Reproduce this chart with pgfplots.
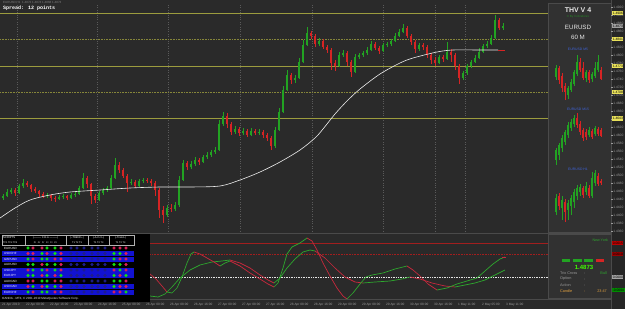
\documentclass[border=0pt]{standalone}
\usepackage{fontspec}
\setmainfont{Liberation Sans}
\newfontfamily\monof{Liberation Mono}
\usepackage{pgfplots}
\usepackage{pgfplotstable}
\pgfplotsset{compat=1.18}
\newcommand\tf[1]{\fontsize{#1}{#1}\selectfont}
\definecolor{bg}{HTML}{2A2A2A}
\definecolor{bgstrip}{HTML}{262626}
\definecolor{panel}{HTML}{313131}
\definecolor{pborder}{HTML}{4A4A4A}
\definecolor{cg}{HTML}{22A322}
\definecolor{cr}{HTML}{D62424}
\definecolor{yl}{HTML}{9C9C3E}
\definecolor{yld}{HTML}{86863A}
\definecolor{gridc}{HTML}{5A5A5A}
\definecolor{tg}{HTML}{12E012}
\definecolor{tr}{HTML}{E0205A}
\definecolor{td}{HTML}{1E1E8C}
\definecolor{rowb}{HTML}{1212D2}
\definecolor{tgray}{HTML}{9A9A9A}
\definecolor{ograng}{HTML}{E0A040}
\definecolor{blab}{HTML}{3E62D8}
\definecolor{lgreen}{HTML}{2EA82E}
\definecolor{lred}{HTML}{C8283C}
\definecolor{dred}{HTML}{A21E1E}
\definecolor{boxy}{HTML}{E8E05A}

\pgfplotsset{
  wick/.style={#1, line width=0.6pt, mark=none, forget plot, -, quiver={u=0, v=\thisrow{wb}-\thisrow{wt}}},
  body/.style={#1, line width=2.2pt, mark=none, forget plot, -, quiver={u=0, v=\thisrow{bb}-\thisrow{bt}}},
  mbody/.style={#1, line width=1.8pt, mark=none, forget plot, -, quiver={u=0, v=\thisrow{bb}-\thisrow{bt}}},
  mini/.style={anchor=south west, scale only axis, width=58pt, xmin=550, xmax=608, y dir=reverse, hide axis, clip=false},
}

% main chart candles (x, body top, body bottom, wick top, wick bottom), in screen rows
\pgfplotstableread{
x bt bb wt wb
3 196 198 194 200
7 192 196 189 197
11 190 192 188 194
19 186 193 184 194
23 183 186 179 188
47 195 196 193 198
59 197 199 195 200
63 196 197 194 199
71 195 198 193 199
75 194 195 192 197
79 188 194 186 195
83 178 188 173 189
99 193 200 191 201
103 190 193 188 195
107 188 190 186 192
111 178 188 175 189
115 165 178 158 179
131 182 183 179 185
139 181 186 179 187
143 180 181 178 183
167 208 215 205 217
175 205 209 202 211
179 180 205 176 207
183 163 180 160 181
191 164 167 161 169
195 160 164 157 166
203 157 162 155 163
207 155 157 152 159
211 152 155 150 157
215 150 152 147 154
219 124 150 120 151
223 116 124 112 126
235 129 132 126 134
243 131 133 128 135
251 131 135 128 136
259 132 133 129 135
275 130 146 127 148
279 112 130 108 131
283 90 112 86 113
287 75 90 70 91
295 78 80 75 83
299 62 78 58 79
303 45 62 40 63
307 33 45 27 46
319 41 44 38 46
339 55 66 52 67
343 53 55 50 57
355 57 72 54 73
359 55 57 53 59
363 53 55 51 57
367 50 53 47 55
371 44 50 41 51
383 45 51 43 52
387 44 45 42 47
391 41 44 39 46
395 36 41 33 42
399 32 36 29 37
403 28 32 24 33
419 45 49 43 51
439 57 63 55 64
447 52 59 42 60
463 73 78 71 80
467 66 73 64 75
471 62 66 60 68
475 58 62 55 63
479 52 58 48 59
483 46 52 44 53
487 44 46 41 48
491 38 44 35 45
495 20 38 15 39
503 26 28 23 30
}\gtab

\pgfplotstableread{
x bt bb wt wb
15 190 193 188 196
27 183 185 181 187
31 185 189 184 192
35 189 191 187 193
39 191 194 190 197
43 194 196 192 198
51 195 198 194 201
55 198 199 196 202
67 196 198 195 200
87 178 184 176 188
91 184 196 183 204
95 196 200 194 203
119 165 170 162 173
123 170 176 168 178
127 176 183 174 192
135 182 186 180 188
147 180 181 178 183
151 181 183 179 186
155 183 190 181 196
159 190 210 188 218
163 210 215 206 223
171 208 209 204 212
187 163 167 161 170
199 160 162 158 165
227 116 124 113 128
231 124 132 122 135
239 129 133 127 136
247 131 135 129 137
255 131 133 129 135
263 132 135 130 138
267 135 138 133 141
271 138 146 136 150
291 75 80 73 84
311 33 36 31 39
315 36 44 34 47
323 41 47 39 49
327 47 50 45 53
331 50 63 48 70
335 63 66 60 71
347 53 62 51 66
351 62 72 60 77
375 44 48 42 50
379 48 51 46 54
407 28 36 26 38
411 36 42 34 45
415 42 49 40 53
423 45 47 43 50
427 47 55 45 58
431 55 60 53 64
435 60 63 57 66
443 57 59 55 62
451 52 55 49 62
455 55 66 53 70
459 66 78 64 84
499 20 28 18 30
}\rtab

\pgfplotstableread{
x bt bb wt wb
556 68 77 65 80
568 88 95 86 99
571 82 90 79 92
574 72 84 70 86
577 62 74 55 76
586 72 78 70 82
592 74 79 72 82
595 68 76 62 78
598 62 70 55 72
}\mfiveg
\pgfplotstableread{
x bt bb wt wb
559 68 80 66 84
562 76 88 73 92
565 86 92 83 100
580 62 70 58 72
583 68 78 62 80
589 72 80 70 83
601 70 79 67 80
}\mfiver
\pgfplotstableread{
x bt bb wt wb
556 150 160 148 165
559 145 155 143 160
562 138 148 135 152
565 132 142 130 145
568 125 135 122 138
571 122 128 119 131
574 118 124 115 127
589 130 135 127 137
595 128 134 126 136
}\mfifg
\pgfplotstableread{
x bt bb wt wb
577 118 125 113 128
580 124 132 121 135
583 130 138 128 141
586 132 137 129 140
592 131 137 129 139
598 129 134 127 136
601 130 136 128 137
}\mfifr
\pgfplotstableread{
x bt bb wt wb
556 198 212 194 215
562 200 208 196 220
568 203 210 200 220
571 198 206 195 215
574 192 202 189 208
577 188 196 185 200
580 187 192 184 196
586 186 192 182 195
592 178 196 172 198
595 173 183 170 186
}\mhg
\pgfplotstableread{
x bt bb wt wb
559 196 206 193 210
565 202 212 199 222
583 188 195 186 198
589 188 196 185 198
598 176 184 173 186
601 181 183 179 185
}\mhr

\begin{document}
\begin{tikzpicture}
% backgrounds
\fill[bg] (0pt,0pt) rectangle (625pt,309pt);

% ---------------- main price chart ----------------
\begin{axis}[at={(0pt,77pt)}, anchor=south west, scale only axis,
  width=548pt, height=227pt, xmin=0, xmax=548, ymin=5, ymax=232, y dir=reverse,
  axis line style={draw=none}, xtick={17,97,168,240,312,383,435,465}, xticklabels={},
  ytick=\empty, major tick length=0pt, xmajorgrids,
  major grid style={gridc, dotted, line width=0.5pt}]
\addplot[yl, line width=0.8pt, forget plot] coordinates {(0,13) (548,13)};
\addplot[yld, densely dotted, line width=0.6pt, forget plot] coordinates {(0,39) (548,39)};
\addplot[yl, line width=0.8pt, forget plot] coordinates {(0,66) (548,66)};
\addplot[yld, densely dotted, line width=0.6pt, forget plot] coordinates {(0,92) (548,92)};
\addplot[yl, line width=0.8pt, forget plot] coordinates {(0,118.5) (548,118.5)};
\addplot[wick=cg] table[x=x, y=wt] {\gtab};
\addplot[wick=cr] table[x=x, y=wt] {\rtab};
\addplot[body=cg] table[x=x, y=bt] {\gtab};
\addplot[body=cr] table[x=x, y=bt] {\rtab};
\addplot[white!85!gray, line width=0.6pt, smooth, forget plot] coordinates {
(0,218) (15,208) (30,200) (50,195) (70,192) (100,190) (130,188) (160,187) (190,187)
(220,186) (240,180) (260,172) (280,162) (300,150) (315,138) (323,129) (335,114)
(347,101) (360,89) (380,74) (400,63) (413,58) (437,52) (453,50) (480,50) (498,50)};
\addplot[cr, line width=0.8pt, forget plot] coordinates {(498,50) (505,50)};
\end{axis}

% ---------------- lower oscillator ----------------
\begin{axis}[at={(0pt,10pt)}, anchor=south west, scale only axis,
  width=611pt, height=63pt, xmin=0, xmax=611, ymin=236, ymax=299, y dir=reverse,
  axis line style={draw=none}, ytick=\empty, major tick length=0pt,
  xtick={2,26,...,506},
  xticklabels={21 Apr 2010,22 Apr 00:00,22 Apr 16:00,23 Apr 08:00,24 Apr 16:00,25 Apr 08:00,26 Apr 00:00,26 Apr 08:00,26 Apr 16:00,27 Apr 00:00,27 Apr 08:00,27 Apr 16:00,28 Apr 08:00,28 Apr 16:00,29 Apr 00:00,29 Apr 08:00,29 Apr 16:00,30 Apr 08:00,30 Apr 16:00,1 May 11:00,2 May 05:00,3 May 11:00},
  xticklabel style={font=\tf{3.2}, text=tgray, anchor=north west, inner sep=0.4pt, xshift=-0.5pt, yshift=-3.6pt}]
\addplot[dred, line width=0.8pt] coordinates {(0,243) (611,243)};
\addplot[dred, densely dotted, line width=0.6pt] coordinates {(0,254) (611,254)};
\addplot[white!80!gray, densely dotted, line width=0.7pt] coordinates {(0,277) (611,277)};
% slow line
\addplot[lgreen, line width=0.7pt] coordinates {(150,296) (158,297) (165,294) (172,287) (180,278) (190,270) (200,265) (212,262) (222,261) (230,260)};
\addplot[lred, line width=0.7pt] coordinates {(230,260) (240,263) (250,268) (260,275) (268,280) (274,283)};
\addplot[lgreen, line width=0.7pt] coordinates {(274,283) (280,278) (287,268) (295,259) (303,252) (310,250) (315,251)};
\addplot[lred, line width=0.7pt] coordinates {(315,251) (325,258) (335,268) (345,277) (355,282) (363,283)};
\addplot[lgreen, line width=0.7pt] coordinates {(363,283) (375,282) (390,281) (402,279) (410,277)};
\addplot[lred, line width=0.7pt] coordinates {(410,277) (420,279) (432,283) (445,286) (455,287)};
\addplot[lgreen, line width=0.7pt] coordinates {(455,287) (465,285) (475,283) (485,280) (495,275) (505,270)};
% fast line
\addplot[lred, line width=0.7pt] coordinates {(150,274) (156,279) (162,286) (167,292)};
\addplot[lgreen, line width=0.7pt] coordinates {(167,292) (172,293) (177,288) (182,277) (187,263) (191,254) (194,252)};
\addplot[lred, line width=0.7pt] coordinates {(194,252) (200,254) (207,258) (214,262) (220,266)};
\addplot[lgreen, line width=0.7pt] coordinates {(220,266) (225,263) (230,261)};
\addplot[lred, line width=0.7pt] coordinates {(230,261) (240,266) (250,273) (260,279) (268,284) (274,287)};
\addplot[lgreen, line width=0.7pt] coordinates {(274,287) (278,283) (283,268) (287,254) (292,247) (300,243) (307,238)};
\addplot[lred, line width=0.7pt] coordinates {(307,238) (312,241) (317,250) (323,263) (330,276) (337,288) (343,296) (347,299)};
\addplot[lgreen, line width=0.7pt] coordinates {(347,299) (353,293) (360,284) (366,277) (372,275) (383,273) (395,269) (407,266)};
\addplot[lred, line width=0.7pt] coordinates {(407,266) (413,270) (420,276) (428,284) (437,290)};
\addplot[lgreen, line width=0.7pt] coordinates {(437,290) (447,288) (457,284) (467,281) (477,278) (485,271) (493,264) (500,259) (505,257)};
\addplot[lred, line width=0.8pt] coordinates {(502,257) (506,257)};
\end{axis}

% ---------------- overlays in screen coordinates ----------------
\begin{scope}[x=1pt, y=-1pt, shift={(0pt,309pt)}]
\draw[pborder, line width=0.8pt] (0,233.5) -- (611,233.5);
\draw[pborder, line width=0.6pt] (0,299.5) -- (611,299.5);
% table box
\fill[black] (0,234) rectangle (150,301.5);
\foreach \a/\b in {251/256, 256.5/261.5, 267.5/272.5, 273/278, 284/289, 289.5/294.5}
  \fill[rowb] (2,\a) rectangle (134,\b);
\draw[white!70!black, line width=0.25pt] (2,235) rectangle (134,245);
\foreach \xx in {25,66,88,109} \draw[white!70!black, line width=0.25pt] (\xx,235) -- (\xx,245);
\node[anchor=west, inner sep=0pt, text=white, font=\tf{2.8}] at (3,237.5) {SCRIPTS};
\node[anchor=west, inner sep=0pt, text=white, font=\tf{2.4}] at (3,242.3) {TF1 TF2 TF3};
\node[inner sep=0pt, text=white, font=\tf{2.6}] at (45.5,237.5) {|——— F-R-A ———|};
\node[inner sep=0pt, text=white, font=\tf{2.4}] at (45.5,242.3) {Fr \, Cr \, Fr \, Cr \, Fr \, Cr};
\node[inner sep=0pt, text=white, font=\tf{2.6}] at (77,237.5) {|–TREND–|};
\node[inner sep=0pt, text=white, font=\tf{2.6}] at (98.5,237.5) {|–A-D-X–|};
\node[inner sep=0pt, text=white, font=\tf{2.6}] at (120.5,237.5) {|–Trend–|};
\foreach \cx in {77,98.5,120.5}
  \node[inner sep=0pt, text=white, font=\tf{2.4}] at (\cx,242.3) {T1 T2 T3};
\foreach \nm/\yy in {EURUSD/248, USDCHF/253.5, GBPUSD/259, AUDUSD/264.5, USDJPY/270, EURJPY/275.5, AUDCAD/281, USDCAD/286.5, EURCHF/292}
  \node[anchor=west, inner sep=0pt, text=white, font=\tf{3}] at (4,\yy) {\nm};
\node[anchor=west, inner sep=0pt, text=white!80!gray, font=\tf{3}] at (2,298.5) {OANDA - MT4, © 2001-2010 MetaQuotes Software Corp.};
% right panel
\fill[panel] (548,3) rectangle (611,232);
\draw[pborder, line width=0.5pt] (548,3) rectangle (611,232);
\fill[panel] (548,234.5) rectangle (611,298.5);
\draw[pborder, line width=0.5pt] (548,234.5) rectangle (611,298.5);
\node[text=white!80!gray, font=\bfseries\tf{7}, inner sep=0pt] at (578,10) {THV V 4};
\node[text=lgreen!80!black, font=\tf{3}, inner sep=0pt] at (578,16.5) {© By Cobraforex};
\node[text=white!82!gray, font=\tf{6.2}, inner sep=0pt] at (578,27) {EURUSD};
\node[text=white!82!gray, font=\tf{6.2}, inner sep=0pt] at (578,37) {60 M};
\node[text=blab, font=\tf{3.4}, inner sep=0pt] at (578,49.5) {EURUSD M5};
\node[text=blab, font=\tf{3.4}, inner sep=0pt] at (578,109.5) {EURUSD M15};
\node[text=blab, font=\tf{3.4}, inner sep=0pt] at (578,169.5) {EURUSD H1};
% lower panel texts
\node[text=lgreen, font=\tf{3.6}, anchor=east, inner sep=0pt] at (608,240) {New York};
\fill[cg] (562,259) rectangle (570,261.5);
\fill[cg] (573,259) rectangle (582,261.5);
\fill[cg] (584,259) rectangle (593,261.5);
\fill[cr] (596,259) rectangle (604,261.5);
\node[text=green!75!yellow, font=\bfseries\tf{6}, inner sep=0pt] at (584,267) {1.4873};
\foreach \lab/\yy in {Trix Cross/273, Option/279, Action/285}{
  \node[text=tgray, font=\tf{3.8}, anchor=west, inner sep=0pt] at (560,\yy) {\lab};
  \node[text=tgray, font=\tf{3.8}, inner sep=0pt] at (585,\yy) {:};
}
\node[text=lgreen, font=\tf{3.8}, anchor=east, inner sep=0pt] at (607,273) {Bull};
\node[text=ograng, font=\tf{3.8}, anchor=west, inner sep=0pt] at (560,291) {Candle};
\node[text=ograng, font=\tf{3.8}, inner sep=0pt] at (585,291) {:};
\node[text=ograng, font=\tf{3.8}, anchor=east, inner sep=0pt] at (607,291) {23:47};
% price strip
\fill[bgstrip] (611,0) rectangle (625,309);
\draw[pborder, line width=0.5pt] (611,0) -- (611,309);
% top texts
\node[anchor=west, inner sep=0pt, text=gray, font=\tf{3}] at (3,3) {EURUSD,H1 \ 1.4872 1.4874 1.4868 1.4873};
\node[anchor=west, inner sep=0pt, text=white, font=\monof\bfseries\tf{5}] at (3,8.5) {Spread: 12 points};
\end{scope}

% table dots
\begin{axis}[at={(0pt,7pt)}, anchor=south west, scale only axis, width=150pt, height=69pt,
  xmin=0, xmax=150, ymin=233, ymax=302, y dir=reverse, hide axis, clip=false]
\addplot[scatter, only marks, scatter src=explicit symbolic,
  scatter/classes={g={mark=*, draw=tg, fill=tg, mark size=1.4pt},
                   r={mark=*, draw=tr, fill=tr, mark size=1.4pt},
                   d={mark=*, draw=td, fill=td, mark size=1.4pt}}]
 table[meta=c, row sep=\\] {
x y c \\
28 248 g \\ 33 248 r \\ 42 248 r \\ 47 248 g \\ 55 248 g \\ 61 248 r \\ 71 248 d \\ 77 248 d \\ 84 248 d \\ 92 248 d \\ 98 248 d \\ 105 248 d \\ 114 248 r \\ 120 248 r \\ 126 248 r \\
28 253.5 r \\ 33 253.5 r \\ 42 253.5 g \\ 47 253.5 r \\ 55 253.5 g \\ 61 253.5 r \\ 71 253.5 d \\ 77 253.5 d \\ 84 253.5 d \\ 92 253.5 d \\ 98 253.5 d \\ 105 253.5 d \\ 114 253.5 g \\ 120 253.5 g \\ 126 253.5 r \\
28 259 g \\ 33 259 r \\ 42 259 g \\ 47 259 g \\ 55 259 r \\ 61 259 r \\ 71 259 d \\ 77 259 d \\ 84 259 d \\ 92 259 d \\ 98 259 d \\ 105 259 d \\ 114 259 g \\ 120 259 r \\ 126 259 r \\
28 264.5 g \\ 33 264.5 g \\ 42 264.5 r \\ 47 264.5 g \\ 55 264.5 g \\ 61 264.5 r \\ 71 264.5 d \\ 77 264.5 d \\ 84 264.5 d \\ 92 264.5 d \\ 98 264.5 d \\ 105 264.5 d \\ 114 264.5 g \\ 120 264.5 g \\ 126 264.5 r \\
28 270 r \\ 33 270 g \\ 42 270 g \\ 47 270 r \\ 55 270 g \\ 61 270 r \\ 71 270 d \\ 77 270 d \\ 84 270 d \\ 92 270 d \\ 98 270 d \\ 105 270 d \\ 114 270 r \\ 120 270 g \\ 126 270 r \\
28 275.5 g \\ 33 275.5 g \\ 42 275.5 r \\ 47 275.5 g \\ 55 275.5 r \\ 61 275.5 g \\ 71 275.5 d \\ 77 275.5 d \\ 84 275.5 d \\ 92 275.5 d \\ 98 275.5 d \\ 105 275.5 d \\ 114 275.5 g \\ 120 275.5 r \\ 126 275.5 g \\
28 281 r \\ 33 281 r \\ 42 281 g \\ 47 281 g \\ 55 281 r \\ 61 281 r \\ 71 281 d \\ 77 281 d \\ 84 281 d \\ 92 281 d \\ 98 281 d \\ 105 281 d \\ 114 281 g \\ 120 281 g \\ 126 281 r \\
28 286.5 r \\ 33 286.5 g \\ 42 286.5 r \\ 47 286.5 g \\ 55 286.5 g \\ 61 286.5 r \\ 71 286.5 d \\ 77 286.5 d \\ 84 286.5 d \\ 92 286.5 d \\ 98 286.5 d \\ 105 286.5 d \\ 114 286.5 g \\ 120 286.5 r \\ 126 286.5 r \\
28 292 g \\ 33 292 r \\ 42 292 g \\ 47 292 g \\ 55 292 r \\ 61 292 r \\ 71 292 d \\ 77 292 d \\ 84 292 d \\ 92 292 d \\ 98 292 d \\ 105 292 d \\ 114 292 r \\ 120 292 r \\ 126 292 g \\
};
\end{axis}

% mini charts
\begin{axis}[mini, at={(550pt,205pt)}, height=52pt, ymin=52, ymax=104]
\addplot[wick=cg] table[x=x, y=wt] {\mfiveg};
\addplot[wick=cr] table[x=x, y=wt] {\mfiver};
\addplot[mbody=cg] table[x=x, y=bt] {\mfiveg};
\addplot[mbody=cr] table[x=x, y=bt] {\mfiver};
\end{axis}
\begin{axis}[mini, at={(550pt,143pt)}, height=56pt, ymin=110, ymax=166]
\addplot[wick=cg] table[x=x, y=wt] {\mfifg};
\addplot[wick=cr] table[x=x, y=wt] {\mfifr};
\addplot[mbody=cg] table[x=x, y=bt] {\mfifg};
\addplot[mbody=cr] table[x=x, y=bt] {\mfifr};
\end{axis}
\begin{axis}[mini, at={(550pt,83pt)}, height=58pt, ymin=168, ymax=226]
\addplot[wick=cg] table[x=x, y=wt] {\mhg};
\addplot[wick=cr] table[x=x, y=wt] {\mhr};
\addplot[mbody=cg] table[x=x, y=bt] {\mhg};
\addplot[mbody=cr] table[x=x, y=bt] {\mhr};
\end{axis}

% price scale
\begin{axis}[at={(611pt,77pt)}, anchor=south west, scale only axis, width=1pt, height=227pt,
  xmin=0, xmax=1, ymin=1.4358, ymax=1.49255, hide x axis, axis y line=right,
  y axis line style={draw=none}, ytick={1.4360,1.4380,...,1.4925},
  tick style={draw=tgray, line width=0.3pt}, major tick length=1.2pt,
  yticklabel style={font=\tf{3.3}, text=tgray, anchor=west, inner sep=0.5pt},
  /pgf/number format/.cd, fixed, fixed zerofill, precision=4, assume math mode=true]
\addplot[draw=none, forget plot] coordinates {(0,1.44) (1,1.45)};
\end{axis}

\begin{scope}[x=1pt, y=-1pt, shift={(0pt,309pt)}]
\foreach \yy/\lab in {13/1.4906, 39/1.4841, 66/1.4773, 92/1.4708, 118.5/1.4643}
  \node[fill=boxy, text=black, font=\tf{3.3}, anchor=west, inner sep=0.6pt, minimum height=4.6pt] at (612,\yy) {\lab};
\node[fill=gray!75, text=black, font=\tf{3.3}, anchor=west, inner sep=0.6pt, minimum height=4.6pt] at (612,26) {1.4873};
\node[fill=red!75!black, text=black, font=\tf{3.3}, anchor=west, inner sep=0.6pt, minimum height=4.6pt] at (612,243) {0.0015};
\node[fill=red!60!black, text=black, font=\tf{3.3}, anchor=west, inner sep=0.6pt, minimum height=4.6pt] at (612,254) {0.0010};
\node[fill=gray!70, text=black, font=\tf{3.3}, anchor=west, inner sep=0.6pt, minimum height=4.6pt] at (612,277) {0.0000};
\node[fill=green!55!black, text=black, font=\tf{3.3}, anchor=west, inner sep=0.6pt, minimum height=4.6pt] at (612,290) {-0.0004};
\end{scope}

\pgfresetboundingbox
\useasboundingbox (0pt,0pt) rectangle (625pt,309pt);
\end{tikzpicture}
\end{document}
